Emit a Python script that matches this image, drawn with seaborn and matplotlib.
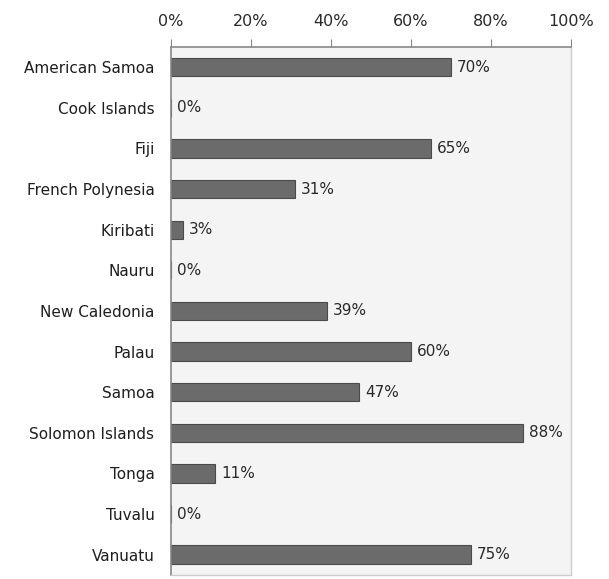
import seaborn as sns
import matplotlib.pyplot as plt
import pandas as pd

countries = ['American Samoa', 'Cook Islands', 'Fiji', 'French Polynesia', 'Kiribati',
             'Nauru', 'New Caledonia', 'Palau', 'Samoa', 'Solomon Islands', 'Tonga',
             'Tuvalu', 'Vanuatu']
values = [70, 0, 65, 31, 3, 0, 39, 60, 47, 88, 11, 0, 75]
ticks = [0, 20, 40, 60, 80, 100]

df = pd.DataFrame({'country': countries, 'value': values})

sns.set_style('white')
plt.rcParams['font.family'] = ['DejaVu Sans']

fig, ax = plt.subplots(figsize=(6.09, 5.79), dpi=100)
fig.subplots_adjust(left=0.281, right=0.9376, top=0.919, bottom=0.007)
ax.set_facecolor('#f4f4f4')

sns.barplot(data=df, y='country', x='value', orient='h', color='#6b6b6b',
            edgecolor='#4a4a4a', linewidth=0.8, width=0.45, saturation=1, ax=ax)

# value labels right of each bar
for i, v in enumerate(values):
    ax.text(v + 1.5, i, f'{v}%', va='center', ha='left', fontsize=11, color='#2a2a2a')

ax.set_xlim(0, 100)
ax.set_ylim(12.5, -0.5)
ax.xaxis.tick_top()
ax.set_xticks(ticks)
ax.set_xticklabels([f'{t}%' for t in ticks])
ax.tick_params(axis='x', length=6, color='#888888', labelsize=11.5, labelcolor='#2a2a2a', pad=7)
ax.tick_params(axis='y', length=0, labelsize=11, labelcolor='#1e1e1e', pad=12)
ax.set_xlabel('')
ax.set_ylabel('')
for s in ['top', 'left']:
    ax.spines[s].set_color('#888888')
    ax.spines[s].set_linewidth(1.2)
for s in ['right', 'bottom']:
    ax.spines[s].set_color('#cccccc')
    ax.spines[s].set_linewidth(1)

plt.savefig('out.png', dpi=100)
